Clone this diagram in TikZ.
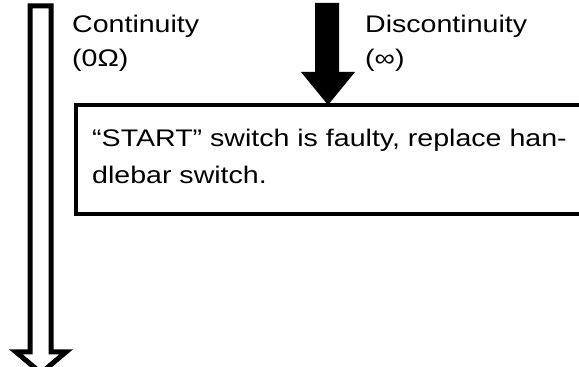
\documentclass[tikz,border=0pt]{standalone}
\usepackage{fontspec}
\setmainfont[FakeStretch=1.19]{Liberation Sans}
\begin{document}
\begin{tikzpicture}[x=1pt,y=1pt,
  lbl/.style={anchor=base west, inner sep=0pt, font=\fontsize{24}{24}\selectfont},
  boxtext/.style={anchor=base west, inner sep=0pt, align=left, font=\fontsize{24}{37}\selectfont},
  hollowarrow/.style={draw=black, fill=white, line width=5pt, line join=miter},
  solidarrow/.style={fill=black, draw=none},
  resultbox/.style={draw=black, line width=4pt, fill=none}]
\useasboundingbox (0,0) rectangle (579,367);
% result box (extends beyond the right edge)
\draw[resultbox] (76,262) rectangle (620,153);
\coordinate (boxtop) at (328,262);
% hollow arrow (Continuity)
\coordinate (hbot) at (41,-6);
\draw[hollowarrow] (30,361) -- (51,361) -- (51,15) -- (66,15) -- (hbot) -- (16,15) -- (30,15) -- cycle;
% solid arrow (Discontinuity)
\fill[solidarrow] (315,364) -- (339,364) -- (339,295) -- (355,295) -- (boxtop) -- (301,295) -- (315,295) -- cycle;
% labels
\node[lbl] (cont) at (72,334) {Continuity};
\node[lbl] (contv) at (72,300) {(0Ω)};
\node[lbl] (disc) at (365,334) {Discontinuity};
\node[lbl] (discv) at (365,300) {(∞)};
\node[boxtext] (msg) at (92,183) {“START” switch is faulty, replace han-\\dlebar switch.};
\end{tikzpicture}
\end{document}
